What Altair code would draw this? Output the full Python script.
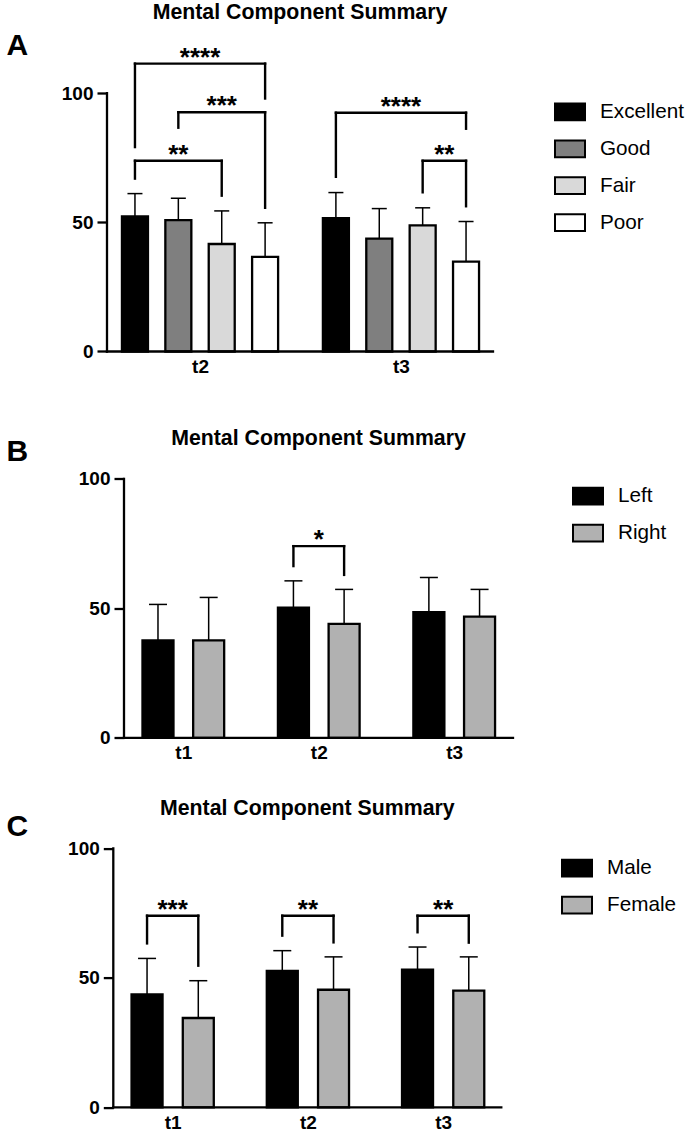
import json
import altair as alt
import pandas as pd

FONT = "Liberation Sans"
TITLE = "Mental Component Summary"

# ---------------- data ----------------
# Panel A : self-rated health
A_times = ["t2", "t3"]
A_groups = ["Excellent", "Good", "Fair", "Poor"]
A_colors = ["#000000", "#7f7f7f", "#d9d9d9", "#ffffff"]
A_mean = [[52.3, 50.8, 41.6, 36.6], [51.6, 43.7, 48.8, 34.8]]
A_sd = [[8.8, 8.5, 12.8, 13.2], [9.9, 11.6, 6.8, 15.5]]
# (time, from, to, bracket level, left leg end, right leg end, label)
A_brackets = [
    ("t2", "Excellent", "Poor", 111.4, 79.1, 97.9, "****"),
    ("t2", "Good", "Poor", 92.6, 86.6, 55.6, "***"),
    ("t2", "Excellent", "Fair", 73.8, 66.9, 60.3, "**"),
    ("t3", "Excellent", "Poor", 92.4, 67.6, 86.2, "****"),
    ("t3", "Fair", "Poor", 73.8, 61.6, 56.2, "**"),
]

# Panel B : side
B_times = ["t1", "t2", "t3"]
B_groups = ["Left", "Right"]
B_colors = ["#000000", "#b1b1b1"]
B_mean = [[37.6, 37.6], [50.3, 44.0], [48.5, 46.8]]
B_sd = [[13.9, 16.6], [10.3, 13.3], [13.4, 10.5]]
B_brackets = [
    ("t2", "Left", "Right", 74.0, 66.3, 62.9, "*"),
]

# Panel C : sex
C_times = ["t1", "t2", "t3"]
C_groups = ["Male", "Female"]
C_colors = ["#000000", "#b1b1b1"]
C_mean = [[43.6, 34.5], [52.7, 45.4], [53.2, 45.1]]
C_sd = [[13.9, 14.4], [7.8, 12.7], [8.7, 13.0]]
C_brackets = [
    ("t1", "Male", "Female", 74.0, 63.3, 54.7, "***"),
    ("t2", "Male", "Female", 74.0, 66.3, 63.7, "**"),
    ("t3", "Male", "Female", 74.0, 67.6, 63.6, "**"),
]


def make_panel(letter, times, groups, colors, mean, sd, brackets, cfg):
    xmin, xmax = cfg["xdomain"]
    width = cfg["width"]
    extra = cfg["extra"]          # blank room left of this panel's y axis
    upx = (xmax - xmin) / width   # data units per pixel
    xlo = xmin - extra * upx
    ymax = cfg["ymax"]
    height = cfg["pxunit"] * ymax
    n = len(groups)
    step = cfg["step"]
    half = cfg["barpx"] / 2 * upx
    caph = cfg["cappx"] / 2 * upx

    def pos(ti, gi):
        return ti + (gi - (n - 1) / 2) * step

    rows = []
    for ti, t in enumerate(times):
        for gi, g in enumerate(groups):
            p = pos(ti, gi)
            m = mean[ti][gi]
            rows.append(dict(time=t, group=g, pos=p, x1=p - half, x2=p + half,
                             c1=p - caph, c2=p + caph, mean=m,
                             upper=m + sd[ti][gi], base=0.0))
    bars_df = pd.DataFrame(rows)

    seg, lab = [], []
    for (t, ga, gb, top, le, re, txt) in brackets:
        ti = times.index(t)
        pa, pb = pos(ti, groups.index(ga)), pos(ti, groups.index(gb))
        seg.append(dict(x=pa, x2=pb, y=top, y2=top))
        seg.append(dict(x=pa, x2=pa, y=le, y2=top))
        seg.append(dict(x=pb, x2=pb, y=re, y2=top))
        lab.append(dict(x=(pa + pb) / 2, y=top, label=txt))
    seg_df = pd.DataFrame(seg)
    lab_df = pd.DataFrame(lab)
    axes_df = pd.DataFrame([
        dict(x=xmin, x2=xmin, y=0.0, y2=100.0),   # y axis line (0..100 only)
        dict(x=xmin, x2=xmax, y=0.0, y2=0.0),     # x axis line
    ])

    xscale = alt.Scale(domain=[xlo, xmax], nice=False, zero=False)
    yscale = alt.Scale(domain=[0, ymax], nice=False, zero=False)
    xaxis = alt.Axis(
        title=None, values=list(range(len(times))),
        labelExpr=f"{json.dumps(times)}[round(datum.value)]",
        ticks=False, grid=False, domain=False,
        labelFont=FONT, labelFontSize=19,
        labelFontWeight="bold", labelColor="black", labelPadding=6,
        labelAngle=0,
    )
    yaxis = alt.Axis(
        title=letter, titleAngle=0, titleFont=FONT, titleFontSize=30,
        titleFontWeight="bold", titleColor="black", titleAlign="left",
        titleBaseline="alphabetic", titleX=cfg["titleX"] - extra, titleY=cfg["titleY"],
        values=[0, 50, 100], domain=False, grid=False, ticks=True,
        tickSize=10, tickWidth=2.3, tickColor="black", labelFont=FONT,
        labelFontSize=19, labelFontWeight="bold", labelColor="black",
        labelPadding=4, format="d", offset=-extra,
    )

    def X(f):
        return alt.X(f, type="quantitative", scale=xscale, axis=xaxis)

    def Y(f):
        return alt.Y(f, type="quantitative", scale=yscale, axis=yaxis)

    legend = alt.Legend(
        title=None, orient="none", legendX=cfg["legendX"], legendY=cfg["legendY"],
        symbolType="M-1,-0.56H1V0.56H-1Z", symbolSize=900,
        symbolStrokeColor="black", symbolStrokeWidth=2, symbolOpacity=1,
        labelFont=FONT, labelFontSize=20.7, labelColor="black",
        labelOffset=14, rowPadding=7.9, padding=0,
    )

    bars = alt.Chart(bars_df).mark_bar(stroke="black", strokeWidth=2.3, opacity=1).encode(
        x=X("x1"), x2="x2:Q", y=Y("mean"), y2="base:Q",
        color=alt.Color("group:N", scale=alt.Scale(domain=groups, range=colors),
                        legend=legend, sort=groups),
    )
    err = alt.Chart(bars_df).mark_rule(color="black", strokeWidth=1.5).encode(
        x=X("pos"), y=Y("mean"), y2="upper:Q")
    cap = alt.Chart(bars_df).mark_rule(color="black", strokeWidth=1.5).encode(
        x=X("c1"), x2="c2:Q", y=Y("upper"))
    brk = alt.Chart(seg_df).mark_rule(color="black", strokeWidth=2.4, strokeCap="square").encode(
        x=X("x"), x2="x2:Q", y=Y("y"), y2="y2:Q")
    stars = alt.Chart(lab_df).mark_text(
        font=FONT, fontSize=26, fontWeight="bold", color="black",
        baseline="alphabetic", align="center", dy=2,
    ).encode(x=X("x"), y=Y("y"), text="label:N")
    axlines = alt.Chart(axes_df).mark_rule(color="black", strokeWidth=2.3, strokeCap="square").encode(
        x=X("x"), x2="x2:Q", y=Y("y"), y2="y2:Q")

    return alt.layer(bars, err, cap, brk, stars, axlines).properties(
        width=width + extra, height=height,
        title=alt.TitleParams(TITLE, font=FONT, fontSize=21.3, fontWeight="bold",
                              color="black", anchor="middle", frame="group",
                              baseline="alphabetic", offset=cfg["toff"], dx=extra / 2),
    )


A = make_panel("A", A_times, A_groups, A_colors, A_mean, A_sd, A_brackets, dict(
    xdomain=(-0.463, 1.458), width=386, extra=0, ymax=124.8, pxunit=2.584, step=0.2159,
    barpx=26, cappx=15, titleX=-101, titleY=25.5, legendX=447, legendY=66.9, toff=-11.2))
B = make_panel("B", B_times, B_groups, B_colors, B_mean, B_sd, B_brackets, dict(
    xdomain=(-0.438, 2.434), width=389, extra=17, ymax=109, pxunit=2.59, step=0.3742,
    barpx=31, cappx=18, titleX=-101, titleY=5.2, legendX=465, legendY=24.7, toff=-29.9))
C = make_panel("C", C_times, C_groups, C_colors, C_mean, C_sd, C_brackets, dict(
    xdomain=(-0.439, 2.430), width=388, extra=6.3, ymax=108.4, pxunit=2.59, step=0.3789,
    barpx=31, cappx=18, titleX=-101, titleY=9.2, legendX=454, legendY=25.6, toff=-24.8))

inner = alt.vconcat(B, C, spacing=34.1).resolve_scale(
    x="independent", y="independent", color="independent").resolve_legend(color="independent")
chart = alt.vconcat(A, inner, spacing=50.5).resolve_scale(
    x="independent", y="independent", color="independent").resolve_legend(
    color="independent").properties(
    padding={"left": 6, "top": 1, "right": 2, "bottom": 0}
).configure_view(stroke=None)

chart.save("out.html", embed_options={"renderer": "svg", "actions": False})
